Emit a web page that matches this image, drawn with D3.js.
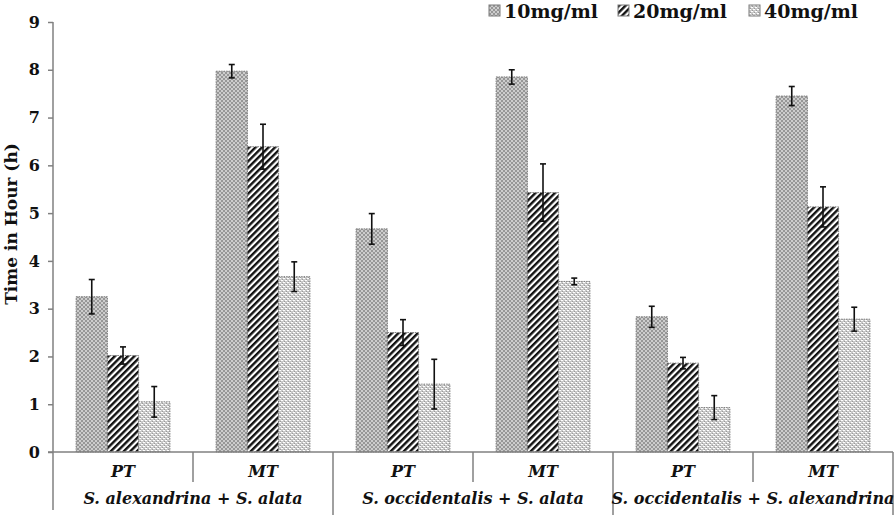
<!DOCTYPE html>
<html>
<head>
<meta charset="utf-8">
<script src="https://cdn.jsdelivr.net/npm/d3@7"></script>
<style>
  body { margin: 0; background: #fff; }
  text { font-family: "DejaVu Serif", "Liberation Serif", serif; font-weight: bold; }
</style>
</head>
<body>
<div id="chart"></div>
<script>
var groups = ["S. alexandrina + S. alata", "S. occidentalis + S. alata", "S. occidentalis + S. alexandrina"];
var stages = ["PT", "MT"];
var series = ["10mg/ml", "20mg/ml", "40mg/ml"];

// one row per stage inside each group, in the order of series
var means = [
  [3.25, 2.02, 1.05],
  [7.97, 6.39, 3.67],
  [4.67, 2.50, 1.42],
  [7.85, 5.43, 3.57],
  [2.83, 1.86, 0.93],
  [7.45, 5.13, 2.78]
];
var errs = [
  [0.36, 0.18, 0.32],
  [0.14, 0.47, 0.31],
  [0.32, 0.27, 0.52],
  [0.15, 0.60, 0.07],
  [0.22, 0.12, 0.25],
  [0.20, 0.42, 0.25]
];
var yTicks = [0, 1, 2, 3, 4, 5, 6, 7, 8, 9];

var W = 894, H = 515;
var mLeft = 53, mRight = 893, mTop = 22, mBottom = 452;

var svg = d3.select("#chart").append("svg")
  .attr("width", W)
  .attr("height", H);

var defs = svg.append("defs");

// grey checker for 10mg/ml
var p1 = defs.append("pattern").attr("id", "p10")
  .attr("width", 4).attr("height", 4).attr("patternUnits", "userSpaceOnUse");
p1.append("rect").attr("width", 4).attr("height", 4).attr("fill", "#cdcdcd");
p1.append("rect").attr("width", 2).attr("height", 2).attr("fill", "#979797");
p1.append("rect").attr("x", 2).attr("y", 2).attr("width", 2).attr("height", 2).attr("fill", "#979797");

// black diagonal stripes for 20mg/ml
var p2 = defs.append("pattern").attr("id", "p20")
  .attr("width", 4.6).attr("height", 4.6).attr("patternUnits", "userSpaceOnUse")
  .attr("patternTransform", "rotate(45)");
p2.append("rect").attr("width", 4.6).attr("height", 4.6).attr("fill", "#fff");
p2.append("rect").attr("width", 2.4).attr("height", 4.6).attr("fill", "#111");

// light grey with white specks for 40mg/ml
var p3 = defs.append("pattern").attr("id", "p40")
  .attr("width", 4).attr("height", 4).attr("patternUnits", "userSpaceOnUse");
p3.append("rect").attr("width", 4).attr("height", 4).attr("fill", "#c8c8c8");
p3.append("rect").attr("x", 0).attr("y", 0).attr("width", 2).attr("height", 1).attr("fill", "#fff");
p3.append("rect").attr("x", 2).attr("y", 2).attr("width", 2).attr("height", 1).attr("fill", "#fff");
p3.append("rect").attr("x", 1).attr("y", 3).attr("width", 1).attr("height", 1).attr("fill", "#9a9a9a");
p3.append("rect").attr("x", 3).attr("y", 1).attr("width", 1).attr("height", 1).attr("fill", "#9a9a9a");

var fills = ["url(#p10)", "url(#p20)", "url(#p40)"];

var cats = d3.range(groups.length * stages.length);

var x0 = d3.scaleBand().domain(cats).range([mLeft, mRight]).padding(0);
var x1 = d3.scaleBand().domain(d3.range(series.length))
  .range([0, x0.bandwidth()]).paddingInner(0).paddingOuter(0.74);
var y = d3.scaleLinear().domain([0, 9]).range([mBottom, mTop]);

// y axis
var yAxis = svg.append("g")
  .attr("transform", "translate(" + mLeft + ",0)")
  .call(d3.axisLeft(y).tickValues(yTicks).tickSize(5).tickPadding(8).tickFormat(d3.format("d")));
yAxis.select(".domain").remove();
yAxis.selectAll("line").attr("stroke", "#808080").attr("stroke-width", 1.5);
yAxis.selectAll("text").attr("font-size", 16).attr("fill", "#111");
svg.append("line")
  .attr("x1", mLeft).attr("x2", mLeft)
  .attr("y1", mTop).attr("y2", 510)
  .attr("stroke", "#808080").attr("stroke-width", 1.5);

svg.append("text")
  .attr("transform", "translate(17," + 224 + ") rotate(-90)")
  .attr("text-anchor", "middle")
  .attr("font-size", 17)
  .attr("fill", "#111")
  .text("Time in Hour (h)");

// bars
var rows = svg.selectAll("g.cat").data(means).enter().append("g")
  .attr("class", "cat")
  .attr("transform", function(d, i) { return "translate(" + x0(i) + ",0)"; });

rows.selectAll("rect").data(function(d) { return d; }).enter().append("rect")
  .attr("x", function(d, j) { return x1(j); })
  .attr("y", function(d) { return y(d); })
  .attr("width", x1.bandwidth())
  .attr("height", function(d) { return y(0) - y(d); })
  .attr("fill", function(d, j) { return fills[j]; })
  .attr("stroke", "#7a7a7a")
  .attr("stroke-width", 1)
  .attr("stroke-dasharray", "1.5,1");

// error bars
rows.each(function(d, i) {
  var g = d3.select(this);
  d.forEach(function(v, j) {
    var cx = x1(j) + x1.bandwidth() / 2;
    var e = errs[i][j];
    g.append("line")
      .attr("x1", cx).attr("x2", cx)
      .attr("y1", y(v + e)).attr("y2", y(v - e))
      .attr("stroke", "#111").attr("stroke-width", 1.6);
    [v + e, v - e].forEach(function(t) {
      g.append("line")
        .attr("x1", cx - 3).attr("x2", cx + 3)
        .attr("y1", y(t)).attr("y2", y(t))
        .attr("stroke", "#111").attr("stroke-width", 1.6);
    });
  });
});

// x axis line
svg.append("line")
  .attr("x1", mLeft - 5).attr("x2", mRight)
  .attr("y1", y(0)).attr("y2", y(0))
  .attr("stroke", "#808080").attr("stroke-width", 1.5);

// category dividers
cats.concat([cats.length]).forEach(function(i) {
  if (i === 0) return;
  var xx = i < cats.length ? x0(i) : mRight;
  var full = i % stages.length === 0;
  svg.append("line")
    .attr("x1", xx).attr("x2", xx)
    .attr("y1", y(0)).attr("y2", full ? 515 : 482)
    .attr("stroke", "#808080").attr("stroke-width", 1.5);
});

// stage labels
cats.forEach(function(i) {
  svg.append("text")
    .attr("x", x0(i) + x0.bandwidth() / 2)
    .attr("y", 477)
    .attr("text-anchor", "middle")
    .attr("font-family", "Liberation Serif")
    .attr("font-style", "italic")
    .attr("font-size", 16)
    .attr("fill", "#111")
    .text(stages[i % stages.length]);
});

// group labels
groups.forEach(function(gname, k) {
  var a = x0(k * stages.length);
  var b = a + x0.bandwidth() * stages.length;
  svg.append("text")
    .attr("x", (a + b) / 2)
    .attr("y", 504)
    .attr("text-anchor", "middle")
    .attr("font-family", "Liberation Serif")
    .attr("font-style", "italic")
    .attr("font-size", 16)
    .attr("fill", "#111")
    .text(gname);
});

// legend
var legX = [489, 618, 749];
var leg = svg.selectAll("g.leg").data(series).enter().append("g")
  .attr("class", "leg")
  .attr("transform", function(d, i) { return "translate(" + legX[i] + ",5)"; });
leg.append("rect")
  .attr("width", 11).attr("height", 11)
  .attr("fill", function(d, i) { return fills[i]; })
  .attr("stroke", "#7a7a7a").attr("stroke-width", 1);
leg.append("text")
  .attr("x", 15).attr("y", 13)
  .attr("font-size", 19)
  .attr("fill", "#111")
  .text(function(d) { return d; });
</script>
</body>
</html>
